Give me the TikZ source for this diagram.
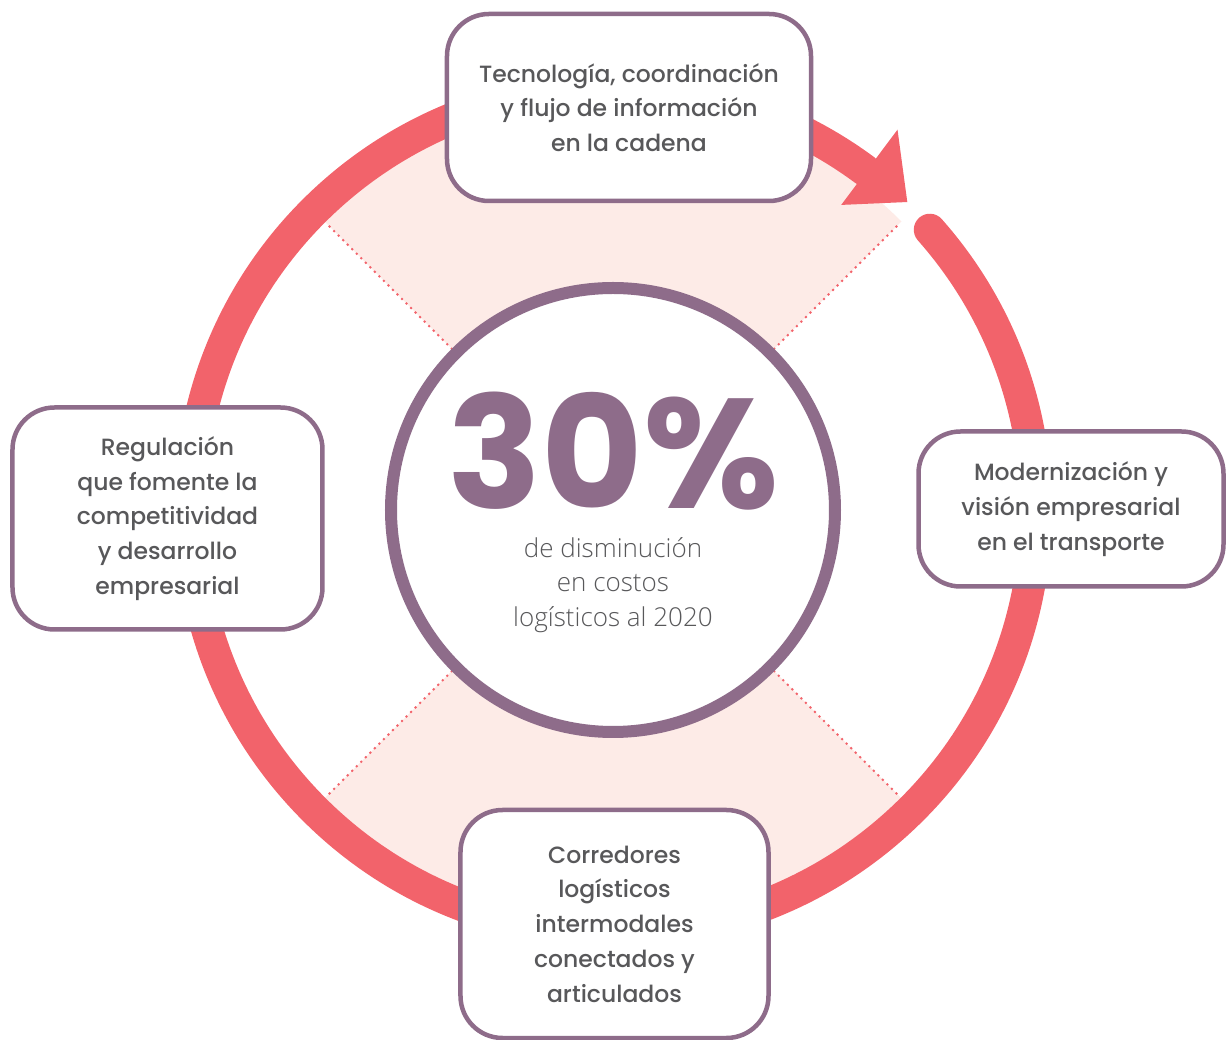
\documentclass[tikz,border=0pt]{standalone}
\usepackage{fontspec}
\setmainfont{Poppins}
\newfontfamily\cardfont{Poppins Medium}
\newfontfamily\lightfont{Open Sans Light}
\definecolor{ringred}{HTML}{F2636B}
\definecolor{plum}{HTML}{8E6C8A}
\definecolor{blush}{HTML}{FDEBE7}
\definecolor{inkgray}{HTML}{58585A}

\begin{document}
\begin{tikzpicture}[x=1pt, y=1pt,
  ring/.style={draw=ringred, line width=32pt, line cap=round},
  spoke/.style={draw=ringred, line width=2.9pt, line cap=round, dash pattern=on 0pt off 6.4pt},
  card/.style={draw=plum, line width=4.5pt, fill=white, rounded corners=42pt,
    align=center, text=inkgray, font=\cardfont\fontsize{23.5}{34.75}\selectfont}]
  \useasboundingbox (-613,-530) rectangle (613,510);
  % shaded quarters
  \fill[blush] (45:408) arc[start angle=45, end angle=135, radius=408]
    -- (135:220) arc[start angle=135, end angle=45, radius=220] -- cycle;
  \fill[blush] (225:408) arc[start angle=225, end angle=315, radius=408]
    -- (315:220) arc[start angle=315, end angle=225, radius=220] -- cycle;
  % dotted spokes
  \foreach \a in {45,135,225,315}
    \draw[spoke] (\a:228) -- (\a:405);
  % ring + arrow head
  \draw[ring] (41.5:423) arc[start angle=41.5, end angle=-306.5, radius=423];
  \fill[ringred] (53.2:381) -- (53.2:475) -- (46.3:426) -- cycle;
  % centre circle
  \node[circle, draw=plum, line width=12pt, fill=white, minimum size=444pt] (hub) at (0,0) {};
  \node[text=plum, inner sep=0pt, text depth=0pt, font=\fontsize{156}{156}\selectfont\bfseries]
    (pct) at (0,60) {30\%};
  \node[text=inkgray, align=center, inner sep=0pt, font=\lightfont\fontsize{26}{34.5}\selectfont]
    (note) at (0,-75) {de disminución\\en costos\\logísticos al 2020};
  % the four cards
  \node[card, minimum width=364pt, minimum height=187pt] (tech) at (16,402.5)
    {Tecnología, coordinación\\y flujo de información\\en la cadena};
  \node[card, minimum width=310pt, minimum height=222pt] (rule) at (-445.5,-8.5)
    {Regulación\\que fomente la\\competitividad\\y desarrollo\\empresarial};
  \node[card, minimum width=305pt, minimum height=155pt] (fleet) at (458,1)
    {Modernización y\\visión empresarial\\en el transporte};
  \node[card, minimum width=308pt, minimum height=228pt] (road) at (1.5,-414)
    {Corredores\\logísticos\\intermodales\\conectados y\\articulados};
\end{tikzpicture}
\end{document}
